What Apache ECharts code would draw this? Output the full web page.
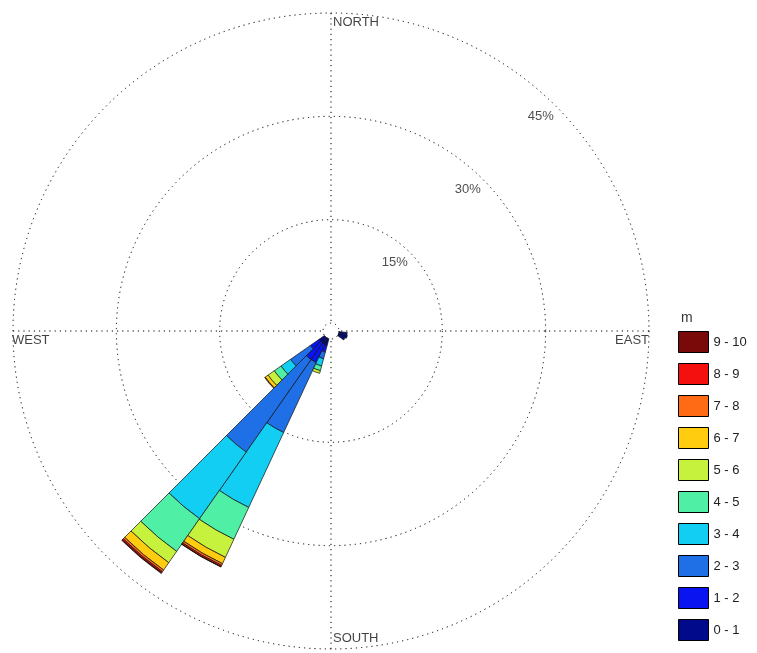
<!DOCTYPE html>
<html>
<head>
<meta charset="utf-8">
<script src="https://cdn.jsdelivr.net/npm/echarts@6/dist/echarts.min.js"></script>
<style>
  html, body { margin: 0; padding: 0; background: #fff; }
  #chart { width: 757px; height: 653px; }
</style>
</head>
<body>
<div id="chart"></div>
<script>
// Direction bins (compass degrees, 10° wide, centred on the value)
const directions = [100, 110, 120, 200, 210, 220, 230];

// Wind speed classes (m)
const speedBands = ['0 - 1', '1 - 2', '2 - 3', '3 - 4', '4 - 5', '5 - 6', '6 - 7', '7 - 8', '8 - 9', '9 - 10'];
const bandColors = ['#000a8a', '#0a14f0', '#1f6fe6', '#12cef2', '#4ff0a6', '#c6f23e', '#ffcc10', '#ff6a14', '#f51010', '#7a0a0a'];

// Frequency (%) of each speed class per direction bin (same order as directions)
const band0 = [1.2, 1.3, 1.1, 1.0, 1.0, 1.0, 1.0];
const band1 = [0, 0, 0, 1.0, 2.9, 2.9, 1.5];
const band2 = [0, 0, 0, 1.0, 11.2, 16.4, 3.5];
const band3 = [0, 0, 0, 1.1, 12.0, 11.8, 1.7];
const band4 = [0, 0, 0, 0.7, 5.1, 5.8, 1.2];
const band5 = [0, 0, 0, 0.4, 2.9, 2.0, 1.1];
const band6 = [0, 0, 0, 0, 1.0, 1.3, 0.5];
const band7 = [0, 0, 0, 0, 0.3, 0.3, 0.1];
const band8 = [0, 0, 0, 0, 0.2, 0.2, 0];
const band9 = [0, 0, 0, 0, 0.05, 0.1, 0];
const bands = [band0, band1, band2, band3, band4, band5, band6, band7, band8, band9];

// Frequency rings and compass labels
const ringValues = [15, 30, 45];
const ringLabels = ['15%', '30%', '45%'];
const compassNames = ['NORTH', 'EAST', 'SOUTH', 'WEST'];
const compassAngles = [0, 90, 180, 270];

const binCategories = [];
for (let a = 0; a < 360; a += 10) binCategories.push(String(a));

function toBinArray(vals) {
  const arr = binCategories.map(() => null);
  directions.forEach((d, i) => {
    if (vals[i] > 0) arr[d / 10] = vals[i];
  });
  return arr;
}

// Rose geometry: an empty hub in the middle, frequencies measured from its edge
const CX = 331, CY = 331, HUB = 8, R = 318;
const FONT = 'Liberation Sans, Arial, sans-serif';
const dots = [1.2, 4];

const barSeries = speedBands.map((name, i) => ({
  name: name,
  type: 'bar',
  coordinateSystem: 'polar',
  polarIndex: 1,
  stack: 'rose',
  barCategoryGap: '0%',
  data: toBinArray(bands[i]),
  itemStyle: { color: bandColors[i], borderColor: '#101010', borderWidth: 0.7 },
  z: 3
}));

const compassAlign = ['left', 'right', 'left', 'left'];
const compassOffset = [[2, 9], [0, 9], [2, -11], [-1, 9]];

const option = {
  animation: false,
  backgroundColor: '#fff',
  title: {
    text: 'm', left: 676, top: 306,
    textStyle: { fontFamily: FONT, fontSize: 14, fontWeight: 'normal', color: '#333' }
  },
  legend: {
    orient: 'vertical', left: 678, top: 331, padding: 0,
    itemWidth: 30, itemHeight: 21, itemGap: 10,
    icon: 'rect', selectedMode: false,
    data: speedBands.slice().reverse(),
    itemStyle: { borderColor: '#000', borderWidth: 1 },
    textStyle: { fontFamily: FONT, fontSize: 13, color: '#222' }
  },
  polar: [
    { center: [CX, CY], radius: [HUB, R] },
    { center: [CX, CY], radius: [HUB, R] }
  ],
  angleAxis: [
    {
      polarIndex: 0, type: 'value', min: 0, max: 360, interval: 90,
      startAngle: 90, clockwise: true,
      axisLine: { show: false }, axisTick: { show: false }, axisLabel: { show: false },
      splitLine: { show: true, lineStyle: { color: '#000', width: 1, type: dots } }
    },
    {
      polarIndex: 1, type: 'category', data: binCategories, boundaryGap: true,
      startAngle: 95, clockwise: true,
      axisLine: { show: false }, axisTick: { show: false }, axisLabel: { show: false },
      splitLine: { show: false }
    }
  ],
  radiusAxis: [
    {
      polarIndex: 0, type: 'value', min: 0, max: 45, interval: 15,
      axisLine: { show: false }, axisTick: { show: false }, axisLabel: { show: false },
      splitLine: { show: true, lineStyle: { color: '#000', width: 1, type: dots } }
    },
    {
      polarIndex: 1, type: 'value', min: 0, max: 45,
      axisLine: { show: false }, axisTick: { show: false }, axisLabel: { show: false },
      splitLine: { show: false }
    }
  ],
  series: barSeries.concat([
    {
      name: 'rings',
      type: 'scatter', coordinateSystem: 'polar', polarIndex: 0,
      data: ringValues.map((v, i) => ({ value: [v, 45], name: ringLabels[i] })),
      symbolSize: 1, itemStyle: { color: 'transparent' }, silent: true, z: 6,
      label: {
        show: true, position: 'inside', offset: [-15, 10],
        formatter: p => p.name,
        fontFamily: FONT, fontSize: 13, color: '#222'
      }
    },
    {
      name: 'compass',
      type: 'scatter', coordinateSystem: 'polar', polarIndex: 0,
      data: compassNames.map((n, i) => ({
        value: [45, compassAngles[i]], name: n,
        label: { align: compassAlign[i], offset: compassOffset[i] }
      })),
      symbolSize: 1, itemStyle: { color: 'transparent' }, silent: true, z: 6,
      label: {
        show: true, position: 'inside', verticalAlign: 'middle',
        formatter: p => p.name,
        fontFamily: FONT, fontSize: 13, color: '#111'
      }
    }
  ])
};

const chart = echarts.init(document.getElementById('chart'), null, { renderer: 'canvas' });
chart.setOption(option);
</script>
</body>
</html>
